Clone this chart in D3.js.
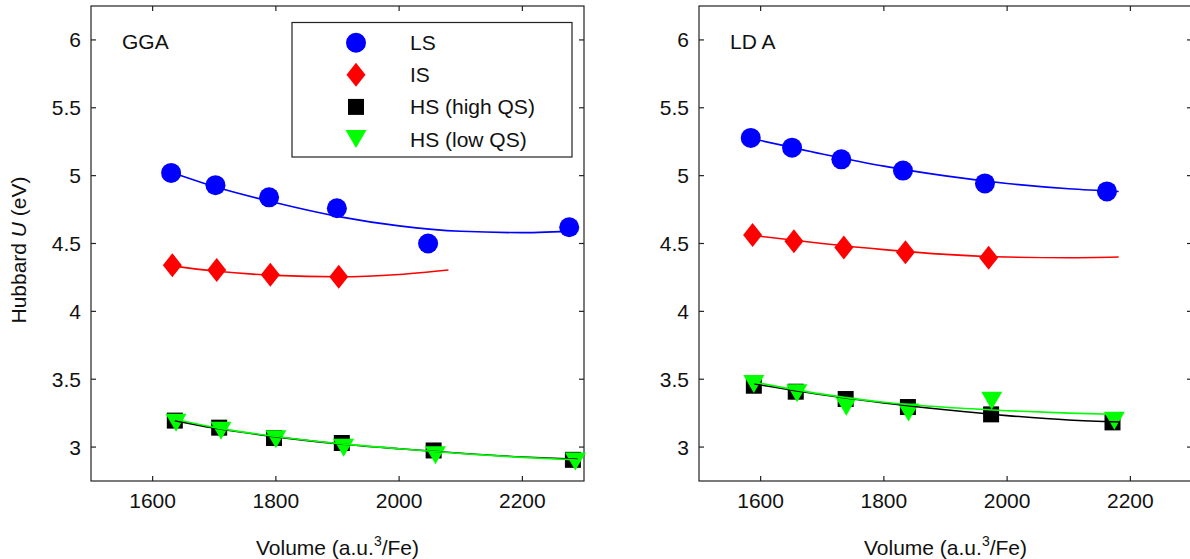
<!DOCTYPE html>
<html>
<head>
<meta charset="utf-8">
<script src="https://cdn.jsdelivr.net/npm/d3@7"></script>
<style>
  body { margin: 0; background: #fff; }
  svg { display: block; font-family: "Liberation Sans", Arial, Helvetica, sans-serif; }
</style>
</head>
<body>
<svg id="chart" width="1190" height="559"></svg>
<script>
'use strict';

// axes
const xTicks = [1600, 1800, 2000, 2200];
const yTicks = [3, 3.5, 4, 4.5, 5, 5.5, 6];
const yTickLabels = ['3', '3.5', '4', '4.5', '5', '5.5', '6'];
const seriesNames = ['LS', 'IS', 'HS (high QS)', 'HS (low QS)'];

// GGA panel: points (volume, U)
const ggaLsV = [1630, 1702, 1789, 1899, 2047, 2276];
const ggaLsU = [5.02, 4.93, 4.84, 4.76, 4.50, 4.62];
const ggaIsV = [1632, 1704, 1791, 1902];
const ggaIsU = [4.34, 4.305, 4.27, 4.255];
const ggaHighV = [1636, 1708, 1797, 1907, 2056, 2282];
const ggaHighU = [3.195, 3.143, 3.067, 3.03, 2.975, 2.906];
const ggaLowV = [1638, 1711, 1800, 1910, 2059, 2286];
const ggaLowU = [3.18, 3.12, 3.057, 2.995, 2.94, 2.894];

// GGA panel: fitted curves
const ggaLsFitV = [1630, 1700, 1800, 1900, 2000, 2100, 2200, 2290];
const ggaLsFitU = [5.025, 4.92, 4.80, 4.70, 4.63, 4.59, 4.58, 4.595];
const ggaIsFitV = [1632, 1700, 1800, 1900, 2000, 2080];
const ggaIsFitU = [4.335, 4.297, 4.265, 4.255, 4.272, 4.305];
const ggaHighFitV = [1636, 1700, 1800, 1900, 2000, 2100, 2200, 2290];
const ggaHighFitU = [3.195, 3.14, 3.075, 3.025, 2.988, 2.955, 2.927, 2.91];
const ggaLowFitV = [1636, 1700, 1800, 1900, 2000, 2100, 2200, 2290];
const ggaLowFitU = [3.205, 3.145, 3.078, 3.027, 2.988, 2.953, 2.924, 2.905];

// LDA panel: points
const ldaLsV = [1584, 1651, 1731, 1831, 1964, 2162];
const ldaLsU = [5.278, 5.206, 5.12, 5.037, 4.943, 4.884];
const ldaIsV = [1587, 1654, 1735, 1835, 1970];
const ldaIsU = [4.563, 4.516, 4.47, 4.435, 4.395];
const ldaHighV = [1589, 1657, 1738, 1839, 1974, 2171];
const ldaHighU = [3.452, 3.408, 3.354, 3.295, 3.241, 3.182];
const ldaLowV = [1589, 1659, 1739, 1840, 1975, 2174];
const ldaLowU = [3.464, 3.396, 3.297, 3.255, 3.341, 3.194];

// LDA panel: fitted curves
const ldaLsFitV = [1584, 1700, 1800, 1900, 2000, 2100, 2181];
const ldaLsFitU = [5.275, 5.16, 5.07, 4.998, 4.942, 4.903, 4.883];
const ldaIsFitV = [1587, 1700, 1800, 1900, 2000, 2100, 2181];
const ldaIsFitU = [4.56, 4.50, 4.455, 4.42, 4.40, 4.395, 4.40];
const ldaHighFitV = [1590, 1700, 1800, 1900, 2000, 2100, 2183];
const ldaHighFitU = [3.465, 3.385, 3.325, 3.275, 3.232, 3.199, 3.185];
const ldaLowFitV = [1590, 1700, 1800, 1900, 2000, 2100, 2185];
const ldaLowFitU = [3.478, 3.39, 3.33, 3.293, 3.268, 3.25, 3.24];

const zip = (xs, ys) => xs.map((x, i) => [x, ys[i]]);

const STYLE = [
  { color: '#0000ff', marker: 'circle' },
  { color: '#ff0000', marker: 'diamond' },
  { color: '#000000', marker: 'square' },
  { color: '#00ff00', marker: 'triangle' },
];

const panels = [
  { title: 'GGA', left: 91, yLabel: true, legend: true,
    pts: [zip(ggaLsV, ggaLsU), zip(ggaIsV, ggaIsU), zip(ggaHighV, ggaHighU), zip(ggaLowV, ggaLowU)],
    fits: [zip(ggaLsFitV, ggaLsFitU), zip(ggaIsFitV, ggaIsFitU), zip(ggaHighFitV, ggaHighFitU), zip(ggaLowFitV, ggaLowFitU)] },
  { title: 'LD A', left: 699, yLabel: false, legend: false,
    pts: [zip(ldaLsV, ldaLsU), zip(ldaIsV, ldaIsU), zip(ldaHighV, ldaHighU), zip(ldaLowV, ldaLowU)],
    fits: [zip(ldaLsFitV, ldaLsFitU), zip(ldaIsFitV, ldaIsFitU), zip(ldaHighFitV, ldaHighFitU), zip(ldaLowFitV, ldaLowFitU)] },
];

const W = 493, TOP = 6, BOTTOM = 481;
const AXIS = '#222';
const FONT = 21;

// marker shapes centred on 0,0
function markerPath(type) {
  switch (type) {
    case 'circle': return d3.symbol(d3.symbolCircle, Math.PI * 10 * 10)();
    case 'diamond': return 'M0,-12L9.5,0L0,12L-9.5,0Z';
    case 'square': return 'M-8,-8H8V8H-8Z';
    case 'triangle': return 'M-10.5,-9H10.5L0,9Z';
  }
}

const svg = d3.select('#chart');

panels.forEach(p => {
  const x = d3.scaleLinear().domain([1500, 2300]).range([p.left, p.left + W]);
  const y = d3.scaleLinear().domain([2.75, 6.25]).range([BOTTOM, TOP]);
  const g = svg.append('g');

  // frame
  g.append('rect').attr('x', p.left).attr('y', TOP).attr('width', W).attr('height', BOTTOM - TOP)
    .attr('fill', 'none').attr('stroke', AXIS).attr('stroke-width', 1.2);

  // inward ticks on all four sides
  xTicks.forEach(t => {
    g.append('line').attr('x1', x(t)).attr('x2', x(t)).attr('y1', BOTTOM).attr('y2', BOTTOM - 5).attr('stroke', AXIS).attr('stroke-width', 1.2);
    g.append('line').attr('x1', x(t)).attr('x2', x(t)).attr('y1', TOP).attr('y2', TOP + 5).attr('stroke', AXIS).attr('stroke-width', 1.2);
    g.append('text').attr('x', x(t)).attr('y', 507.5).attr('text-anchor', 'middle')
      .attr('font-size', FONT).attr('fill', '#111').text(t);
  });
  yTicks.forEach((t, i) => {
    g.append('line').attr('x1', p.left).attr('x2', p.left + 5).attr('y1', y(t)).attr('y2', y(t)).attr('stroke', AXIS).attr('stroke-width', 1.2);
    g.append('line').attr('x1', p.left + W).attr('x2', p.left + W - 5).attr('y1', y(t)).attr('y2', y(t)).attr('stroke', AXIS).attr('stroke-width', 1.2);
    g.append('text').attr('x', p.left - 10).attr('y', y(t) + 7.5).attr('text-anchor', 'end')
      .attr('font-size', FONT).attr('fill', '#111').text(yTickLabels[i]);
  });

  // panel title
  g.append('text').attr('x', p.left + 31).attr('y', 48.5).attr('font-size', FONT).attr('fill', '#111').text(p.title);

  // x label
  const xl = g.append('text').attr('x', p.left + W / 2).attr('y', 555).attr('text-anchor', 'middle')
    .attr('font-size', FONT).attr('fill', '#111');
  xl.append('tspan').text('Volume (a.u.');
  xl.append('tspan').attr('dy', -9).attr('font-size', 14).text('3');
  xl.append('tspan').attr('dy', 9).text('/Fe)');

  // y label
  if (p.yLabel) {
    const yl = g.append('text').attr('transform', 'translate(25.5,250) rotate(-90)')
      .attr('text-anchor', 'middle').attr('font-size', FONT).attr('fill', '#111');
    yl.append('tspan').text('Hubbard ');
    yl.append('tspan').attr('font-style', 'italic').text('U');
    yl.append('tspan').text(' (eV)');
  }

  // markers
  p.pts.forEach((pts, si) => {
    g.append('g').selectAll('path').data(pts).join('path')
      .attr('d', markerPath(STYLE[si].marker))
      .attr('transform', d => `translate(${x(d[0])},${y(d[1])})`)
      .attr('fill', STYLE[si].color);
  });

  // fitted curves
  const line = d3.line().x(d => x(d[0])).y(d => y(d[1])).curve(d3.curveMonotoneX);
  p.fits.forEach((f, si) => {
    g.append('path').attr('d', line(f)).attr('fill', 'none')
      .attr('stroke', STYLE[si].color).attr('stroke-width', 1.6);
  });

  // legend
  if (p.legend) {
    const lg = g.append('g');
    lg.append('rect').attr('x', 292).attr('y', 22.5).attr('width', 280).attr('height', 134.5)
      .attr('fill', '#fff').attr('stroke', AXIS).attr('stroke-width', 1.2);
    const rowY = d3.scalePoint().domain(seriesNames).range([42.7, 139]);
    seriesNames.forEach((n, si) => {
      lg.append('path').attr('d', markerPath(STYLE[si].marker))
        .attr('transform', `translate(356,${rowY(n)})`).attr('fill', STYLE[si].color);
      lg.append('text').attr('x', 410).attr('y', rowY(n) + 7.5).attr('font-size', FONT)
        .attr('fill', '#111').text(n);
    });
  }
});
</script>
</body>
</html>
